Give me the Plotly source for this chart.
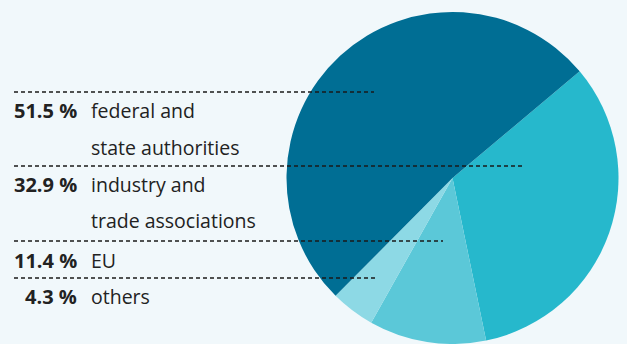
import plotly.graph_objects as go

# Data
categories = ["industry and trade associations", "EU", "others", "federal and state authorities"]
values = [32.9, 11.4, 4.3, 51.5]
colors = ["#26B8CC", "#5BC8D8", "#8DD9E5", "#006E94"]

# Legend rows (left side)
row_pcts = ["51.5 %", "32.9 %", "11.4 %", "4.3 %"]
row_labels = [["federal and", "state authorities"], ["industry and", "trade associations"], ["EU"], ["others"]]

W, H = 627, 344
BG = "#F1F8FB"
TXT = "#222222"

def px(x):
    return x / W

def py(y):
    return 1 - y / H

fig = go.Figure()
fig.add_trace(go.Pie(
    labels=categories, values=values, sort=False, direction="clockwise",
    rotation=50, marker=dict(colors=colors, line=dict(width=0)),
    textinfo="none", hoverinfo="label+percent", showlegend=False,
    domain=dict(x=[px(286.5), px(618.5)], y=[0, 332 / H]),
))

# dashed leader lines: (y, x_end)
lines = [(92, 374), (166, 524), (241, 443), (278, 377)]
for y, xe in lines:
    fig.add_shape(type="line", xref="paper", yref="paper",
                  x0=px(14), x1=px(xe), y0=py(y), y1=py(y),
                  line=dict(color="#1a1a1a", width=1.3, dash="4px,3px"), layer="above")

# text rows baselines
baselines = [[117, 154], [192, 227], [267], [303]]
fs = 19.5
for pct, labs, bls in zip(row_pcts, row_labels, baselines):
    fig.add_annotation(x=px(79), y=py(bls[0] - 7), xref="paper", yref="paper",
                       text="<b>" + pct + "</b>", showarrow=False, xanchor="right", yanchor="middle",
                       font=dict(family="Open Sans", size=20, color=TXT))
    for lab, bl in zip(labs, bls):
        fig.add_annotation(x=px(89), y=py(bl - 7), xref="paper", yref="paper",
                           text=lab, showarrow=False, xanchor="left", yanchor="middle",
                           font=dict(family="Open Sans", size=fs, color=TXT))

fig.update_layout(width=W, height=H, margin=dict(l=0, r=0, t=0, b=0),
                  paper_bgcolor=BG, plot_bgcolor=BG)
fig.write_html("out.html")
